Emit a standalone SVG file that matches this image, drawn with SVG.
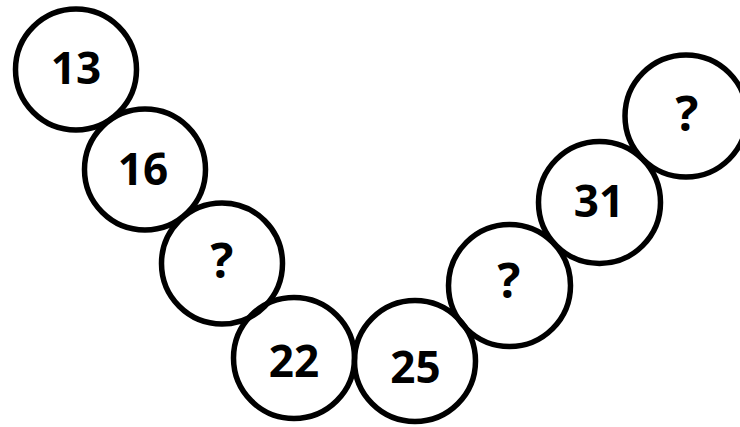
<svg xmlns="http://www.w3.org/2000/svg" width="740" height="427" viewBox="0 0 740 427">
<style>
.c{fill:none;stroke:#000;stroke-width:5.5}
.t{font-family:"Open Sans","Liberation Sans",sans-serif;font-weight:bold;font-size:44px;text-anchor:middle;fill:#000}
.q{font-size:48px}
</style>
<rect width="740" height="427" fill="#fff"/>
<g id="connectors"/>
<g id="n1"><circle class="c" cx="76" cy="69.5" r="60.5"/><text class="t" x="76" y="84">13</text></g>
<g id="n2"><circle class="c" cx="145" cy="169.5" r="60.5"/><text class="t" x="143" y="185">16</text></g>
<g id="n3"><circle class="c" cx="222" cy="263.5" r="60.5"/><text class="t q" x="222" y="278">?</text></g>
<g id="n4"><circle class="c" cx="294" cy="358" r="60.5"/><text class="t" x="294" y="377">22</text></g>
<g id="n5"><circle class="c" cx="415" cy="361" r="60.5"/><text class="t" x="415.5" y="383">25</text></g>
<g id="n6"><circle class="c" cx="509.5" cy="285.5" r="61"/><text class="t q" x="509" y="298">?</text></g>
<g id="n7"><circle class="c" cx="599.5" cy="202.5" r="61"/><text class="t" x="599" y="217">31</text></g>
<g id="n8"><circle class="c" cx="686" cy="116" r="61"/><text class="t q" x="687" y="131">?</text></g>
</svg>
